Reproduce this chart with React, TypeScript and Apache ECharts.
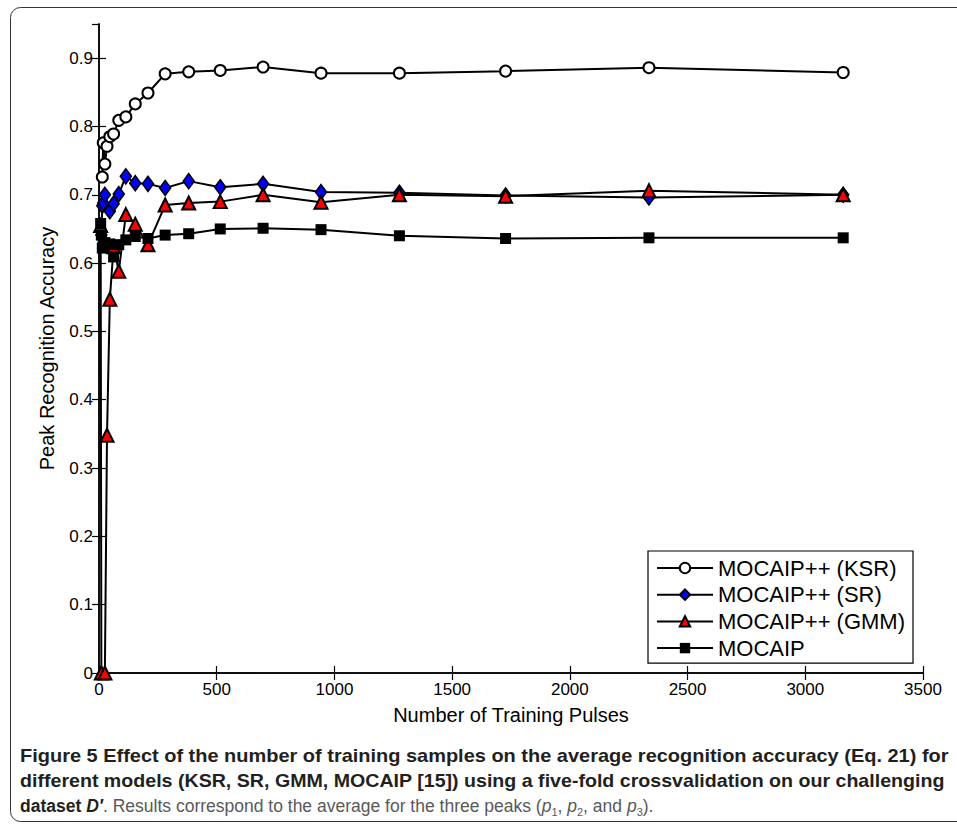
import React, { useEffect, useRef } from "react";
import * as echarts from "echarts";

// ---- data ----
const xKSR = [14, 18, 25, 34, 46, 62, 84, 114, 154, 208, 281, 381, 515, 697, 943, 1276, 1727, 2336, 3161];
const yKSR = [0.726, 0.776, 0.745, 0.771, 0.785, 0.789, 0.809, 0.814, 0.833, 0.849, 0.877, 0.88, 0.882, 0.887, 0.878, 0.878, 0.881, 0.886, 0.879];

const xSR = [10, 14, 18, 25, 46, 62, 84, 114, 154, 208, 281, 381, 515, 697, 943, 1276, 1727, 2336, 3161];
const ySR = [0.641, 0.684, 0.688, 0.7, 0.676, 0.687, 0.701, 0.727, 0.717, 0.716, 0.71, 0.72, 0.711, 0.716, 0.704, 0.703, 0.699, 0.696, 0.7];

const xGMM = [7, 10, 25, 34, 46, 62, 84, 114, 154, 208, 281, 381, 515, 697, 943, 1276, 1727, 2336, 3161];
const yGMM = [0.655, 0.0, 0.0, 0.348, 0.547, 0.624, 0.588, 0.671, 0.657, 0.627, 0.685, 0.688, 0.69, 0.7, 0.689, 0.7, 0.698, 0.706, 0.7];

const xMOC = [7, 10, 14, 18, 25, 34, 46, 62, 84, 114, 154, 208, 281, 381, 515, 697, 943, 1276, 1727, 2336, 3161];
const yMOC = [0.658, 0.641, 0.622, 0.628, 0.63, 0.627, 0.628, 0.609, 0.627, 0.634, 0.639, 0.636, 0.641, 0.643, 0.65, 0.651, 0.649, 0.64, 0.636, 0.637, 0.637];

const seriesNames = ["MOCAIP++ (KSR)", "MOCAIP++ (SR)", "MOCAIP++ (GMM)", "MOCAIP"];
const xTicks = [0, 500, 1000, 1500, 2000, 2500, 3000, 3500];
const xAxisTitle = "Number of Training Pulses";
const yAxisTitle = "Peak Recognition Accuracy";
const captionLine1 = "Figure 5 Effect of the number of training samples on the average recognition accuracy (Eq. 21) for";
const captionLine2 = "different models (KSR, SR, GMM, MOCAIP [15]) using a five-fold crossvalidation on our challenging";

const pairs = (xs: number[], ys: number[]) => xs.map((x, i) => [x, ys[i]]);

const FONT = "'Liberation Sans', Arial, Helvetica, sans-serif";

export default function App() {
  const ref = useRef<HTMLDivElement>(null);
  useEffect(() => {
    document.body.style.margin = "0";
    const chart = echarts.init(ref.current!, undefined, { renderer: "svg" });
    const lineStyle = { color: "#000", width: 2 };
    const axisCommon = {
      type: "value" as const,
      axisLine: { show: true, lineStyle: { color: "#000", width: 1.5 } },
      axisTick: { show: true, inside: true, length: 7, lineStyle: { color: "#000", width: 1.2 } },
      splitLine: { show: false },
    };
    const boldCap = { fontWeight: "bold", fontSize: 18, fontFamily: FONT, fill: "#231f20" };
    chart.setOption({
      animation: false,
      backgroundColor: "#fff",
      grid: { left: 99, top: 24, right: 34, bottom: 154, containLabel: false },
      xAxis: [
        {
          ...axisCommon,
          position: "bottom",
          min: xTicks[0],
          max: xTicks[xTicks.length - 1],
          interval: 500,
          axisLabel: { color: "#000", fontSize: 17, fontFamily: FONT, margin: 8, formatter: (v: number) => String(v) },
          name: xAxisTitle,
          nameLocation: "middle",
          nameGap: 32,
          nameTextStyle: { color: "#000", fontSize: 20, fontFamily: FONT },
        },
        {
          ...axisCommon,
          position: "top",
          min: xTicks[0],
          max: xTicks[xTicks.length - 1],
          interval: 500,
          axisLabel: { show: false },
        },
      ],
      yAxis: [
        {
          ...axisCommon,
          position: "left",
          min: 0,
          max: 0.95,
          interval: 0.1,
          axisLabel: {
            color: "#000",
            fontSize: 17,
            fontFamily: FONT,
            margin: 6,
            showMaxLabel: false,
            formatter: (v: number) => (v === 0 ? "0" : v > 0.91 ? "" : v.toFixed(1)),
          },
          name: yAxisTitle,
          nameLocation: "middle",
          nameGap: 42,
          nameTextStyle: { color: "#000", fontSize: 20, fontFamily: FONT },
        },
        {
          ...axisCommon,
          position: "right",
          min: 0,
          max: 0.95,
          interval: 0.1,
          axisLabel: { show: false },
        },
      ],
      legend: {
        orient: "vertical",
        left: 648,
        top: 551,
        padding: [6, 8, 4, 8],
        itemGap: 4.7,
        itemWidth: 56,
        itemHeight: 13,
        backgroundColor: "#fff",
        borderColor: "#000",
        borderWidth: 1.2,
        textStyle: { color: "#000", fontSize: 22, fontFamily: FONT, lineHeight: 22 },
        data: seriesNames,
      },
      series: [
        {
          name: seriesNames[0],
          type: "line",
          data: pairs(xKSR, yKSR),
          symbol: "circle",
          symbolSize: 11,
          itemStyle: { color: "#fff", borderColor: "#000", borderWidth: 2 },
          lineStyle,
          clip: false,
        },
        {
          name: seriesNames[1],
          type: "line",
          data: pairs(xSR, ySR),
          symbol: "diamond",
          symbolSize: [11, 15],
          itemStyle: { color: "#0000ff", borderColor: "#000", borderWidth: 1.6 },
          lineStyle,
          clip: false,
        },
        {
          name: seriesNames[2],
          type: "line",
          data: pairs(xGMM, yGMM),
          symbol: "triangle",
          symbolSize: 13,
          itemStyle: { color: "#ff0000", borderColor: "#000", borderWidth: 2 },
          lineStyle,
          clip: false,
        },
        {
          name: seriesNames[3],
          type: "line",
          data: pairs(xMOC, yMOC),
          symbol: "rect",
          symbolSize: 11,
          itemStyle: { color: "#000", borderColor: "#000", borderWidth: 0 },
          lineStyle,
          clip: false,
        },
      ],
      graphic: [
        {
          type: "rect",
          silent: true,
          shape: { x: 10.5, y: 7.5, width: 990, height: 814, r: 10 },
          style: { fill: "none", stroke: "#333", lineWidth: 1 },
        },
        {
          type: "text",
          x: 20,
          y: 756,
          scaleX: 1.11,
          style: {
            text: captionLine1,
            ...boldCap,
            verticalAlign: "middle",
          },
        },
        {
          type: "text",
          x: 20,
          y: 781,
          scaleX: 1.09,
          style: {
            text: captionLine2,
            ...boldCap,
            verticalAlign: "middle",
          },
        },
        {
          type: "text",
          x: 20,
          y: 806,
          style: {
            verticalAlign: "middle",
            text:
              "{b|dataset }{bi|D′}{r|. Results correspond to the average for the three peaks (}{i|p}{sub|1}{r|, }{i|p}{sub|2}{r|, and }{i|p}{sub|3}{r|).}",
            rich: {
              b: { fontWeight: "bold", fontSize: 17.5, fontFamily: FONT, fill: "#231f20", lineHeight: 22 },
              bi: { fontWeight: "bold", fontStyle: "italic", fontSize: 17.5, fontFamily: FONT, fill: "#231f20", lineHeight: 22 },
              r: { fontSize: 17.5, fontFamily: FONT, fill: "#58595b", lineHeight: 22 },
              i: { fontStyle: "italic", fontSize: 17.5, fontFamily: FONT, fill: "#58595b", lineHeight: 22 },
              sub: { fontSize: 11, fontFamily: FONT, fill: "#58595b", lineHeight: 12, verticalAlign: "bottom" },
            },
          },
        },
      ],
    });
    return () => chart.dispose();
  }, []);
  return <div ref={ref} style={{ width: 957, height: 827 }} />;
}
